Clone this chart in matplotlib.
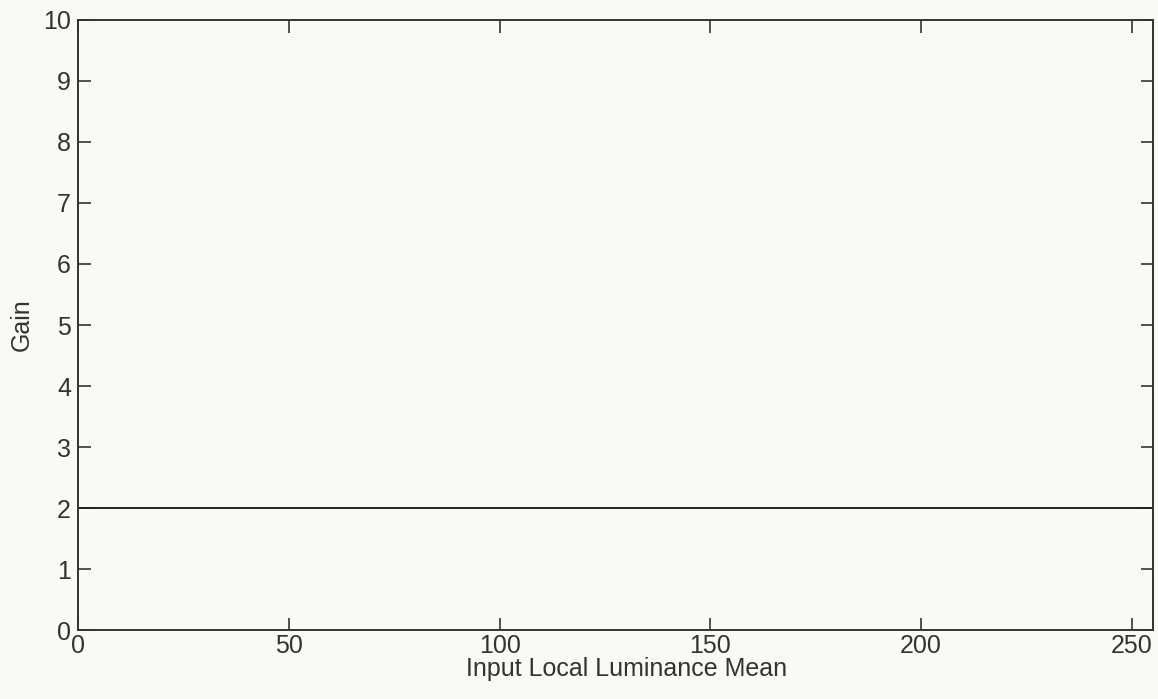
import matplotlib
matplotlib.use("Agg")
import matplotlib.pyplot as plt
import numpy as np

x_values = [0, 255]
gain_values = [2, 2]
x_ticks = [0, 50, 100, 150, 200, 250]
y_ticks = [0, 1, 2, 3, 4, 5, 6, 7, 8, 9, 10]

plt.rcParams['font.family'] = ['Liberation Sans', 'DejaVu Sans']
bg = '#f9f9f5'
fig = plt.figure(figsize=(11.58, 6.99), dpi=100, facecolor=bg)
ax = fig.add_axes([0.0674, 0.0987, 0.9283, 0.8727])
ax.set_facecolor(bg)
ax.plot(x_values, gain_values, color='#222222', linewidth=1.4)
ax.set_xlim(0, 255)
ax.set_ylim(0, 10)
ax.set_xticks(x_ticks)
ax.set_yticks(y_ticks)
ax.tick_params(direction='in', length=9, width=1.2, colors='#333333', labelsize=18,
               top=True, right=True, pad=5)
ax.tick_params(axis='x', pad=3)
for s in ax.spines.values():
    s.set_color('#333333')
    s.set_linewidth(1.4)
ax.set_xlabel('Input Local Luminance Mean', fontsize=18, color='#333333')
ax.set_ylabel('Gain', fontsize=18, color='#333333')
ax.xaxis.set_label_coords(0.51, -0.045, transform=ax.transAxes)
ax.yaxis.set_label_coords(-0.041, 0.5, transform=ax.transAxes)
fig.savefig('out.png', dpi=100, facecolor=bg)
